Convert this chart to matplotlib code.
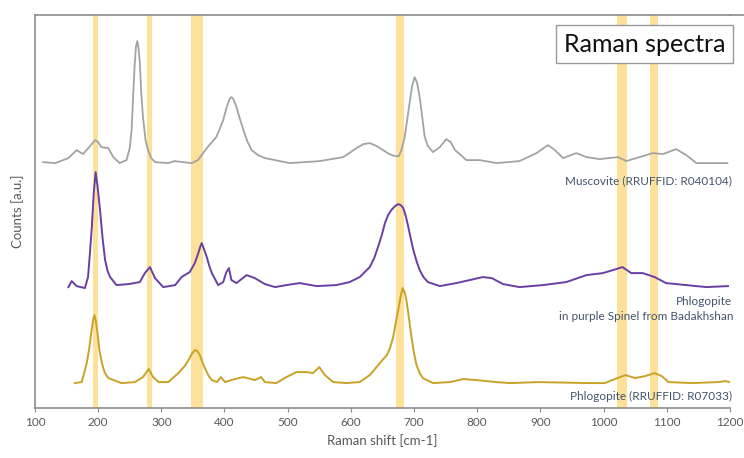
import matplotlib.pyplot as plt

plt.rcParams['font.family'] = ['Lato', 'DejaVu Sans']

# highlighted bands (cm-1)
band_lo = [192, 277, 347, 672, 1022, 1073]
band_hi = [200, 285, 366, 684, 1037, 1087]

# Muscovite (RRUFFID: R040104), offset trace
musc_x = [113, 132, 153, 166, 176, 186, 195, 200, 205, 216, 224, 234, 245, 250, 253, 256, 258, 260, 262,
          264, 266, 268, 271, 275, 279, 284, 290, 311, 321, 348, 358, 372, 387, 393, 398, 403, 408, 411,
          414, 419, 424, 430, 436, 443, 453, 464, 480, 503, 551, 588, 609, 620, 630, 641, 651, 661, 670,
          676, 680, 685, 688, 693, 697, 701, 705, 709, 713, 717, 722, 730, 741, 751, 758, 765, 783, 804,
          831, 867, 894, 912, 923, 936, 957, 973, 994, 1023, 1036, 1057, 1078, 1094, 1115, 1131, 1147, 1196]
musc_y = [246, 245, 250, 258, 254, 261, 268, 266, 261, 260, 251, 245, 248, 260, 278, 320, 345, 362, 367,
          360, 345, 318, 291, 268, 258, 250, 246, 245, 247, 245, 248, 260, 271, 280, 288, 300, 309, 311,
          309, 301, 290, 278, 267, 258, 253, 250, 248, 245, 247, 251, 260, 264, 265, 262, 258, 254, 252,
          252, 258, 270, 283, 305, 322, 331, 325, 311, 291, 271, 262, 256, 261, 269, 266, 258, 248, 248,
          245, 247, 255, 263, 258, 250, 255, 251, 249, 251, 247, 251, 255, 254, 259, 253, 245, 245]

# Phlogopite in purple spinel from Badakhshan
phl_x = [153, 158, 166, 179, 184, 187, 190, 193, 196, 199, 203, 207, 211, 215, 219, 229, 248, 266, 274,
         282, 290, 303, 322, 332, 345, 353, 358, 362, 364, 367, 372, 376, 380, 390, 398, 403, 407, 411,
         419, 435, 448, 464, 480, 498, 519, 546, 577, 598, 614, 630, 637, 643, 649, 654, 659, 664, 670,
         675, 679, 683, 687, 691, 695, 699, 704, 709, 715, 722, 741, 767, 788, 809, 823, 841, 867, 904,
         941, 973, 999, 1015, 1030, 1044, 1062, 1081, 1099, 1131, 1163, 1197]
phl_y = [121, 127, 122, 120, 131, 155, 181, 215, 236, 222, 198, 170, 148, 137, 131, 123, 124, 126, 135,
         141, 130, 121, 123, 131, 136, 145, 154, 162, 165, 160, 151, 142, 135, 123, 126, 136, 140, 128,
         125, 133, 130, 124, 121, 123, 125, 122, 123, 126, 131, 141, 150, 161, 173, 185, 193, 198, 202,
         204, 203, 200, 192, 181, 169, 158, 147, 138, 131, 126, 122, 125, 128, 131, 130, 124, 121, 123,
         126, 133, 135, 138, 141, 135, 135, 131, 125, 123, 121, 122]

# Phlogopite (RRUFFID: R07033)
ref_x = [163, 174, 182, 186, 189, 192, 194, 196, 199, 202, 206, 210, 216, 237, 258, 271, 280, 287, 296,
         311, 327, 337, 343, 348, 353, 357, 361, 365, 369, 375, 380, 388, 394, 401, 416, 430, 448, 458,
         464, 482, 498, 514, 530, 540, 550, 559, 572, 593, 614, 630, 646, 657, 662, 667, 671, 675, 679,
         682, 685, 688, 692, 696, 700, 704, 709, 714, 730, 757, 778, 799, 830, 852, 897, 976, 1002, 1018,
         1035, 1050, 1066, 1081, 1092, 1103, 1140, 1182, 1193, 1199]
ref_y = [25, 26, 45, 60, 75, 88, 93, 88, 75, 58, 45, 36, 30, 25, 26, 31, 39, 31, 26,
         26, 35, 42, 48, 54, 58, 57, 53, 46, 40, 32, 28, 26, 31, 26, 29, 31, 28, 31,
         26, 25, 31, 36, 36, 35, 41, 33, 26, 25, 26, 33, 45, 53, 60, 71, 85, 98, 112,
         120, 116, 108, 90, 71, 55, 43, 35, 30, 25, 26, 29, 28, 26, 25, 26, 25, 25, 29,
         33, 30, 32, 35, 32, 26, 25, 26, 27, 26]

fig = plt.figure(figsize=(7.44, 4.58), dpi=100)
ax = fig.add_axes([0.047, 0.109, 0.934, 0.858])

for lo, hi in zip(band_lo, band_hi):
    ax.axvspan(lo, hi, color='#fde19a', lw=0, zorder=0)

ax.plot(musc_x, musc_y, color='#a3a3a3', lw=1.3)
ax.plot(phl_x, phl_y, color='#6a3fa3', lw=1.4)
ax.plot(ref_x, ref_y, color='#c9a227', lw=1.4)

txt = '#44546a'
ax.text(1203, 227, 'Muscovite (RRUFFID: R040104)', color=txt, fontsize=8.5, ha='right', va='center')
ax.text(1203, 107, 'Phlogopite', color=txt, fontsize=8.5, ha='right', va='center')
ax.text(1206, 92, 'in purple Spinel from Badakhshan', color=txt, fontsize=8.5, ha='right', va='center')
ax.text(1203, 12, 'Phlogopite (RRUFFID: R07033)', color=txt, fontsize=8.5, ha='right', va='center')

ax.text(1193, 364, 'Raman spectra', fontsize=18, color='#111111', ha='right', va='center',
        bbox=dict(boxstyle='square,pad=0.3', fc='white', ec='#9a9a9a', lw=1))

ax.set_xlim(100, 1200)
ax.set_ylim(0, 393)
ax.set_xticks(range(100, 1201, 100))
ax.set_yticks([])
ax.tick_params(axis='x', colors='#8c8c8c', labelcolor='#595959', labelsize=8.5, length=3)
ax.set_xlabel('Raman shift [cm-1]', color='#595959', fontsize=9.5, labelpad=4)
ax.set_ylabel('Counts [a.u.]', color='#595959', fontsize=9.5, labelpad=8)

for s in ['left', 'bottom', 'top']:
    ax.spines[s].set_color('#8c8c8c')
    ax.spines[s].set_linewidth(1.2)
ax.spines['right'].set_visible(False)
ax.plot([1, 1.03], [1, 1], transform=ax.transAxes, color='#8c8c8c', lw=1.2, clip_on=False)

fig.savefig('out.png', dpi=100)
